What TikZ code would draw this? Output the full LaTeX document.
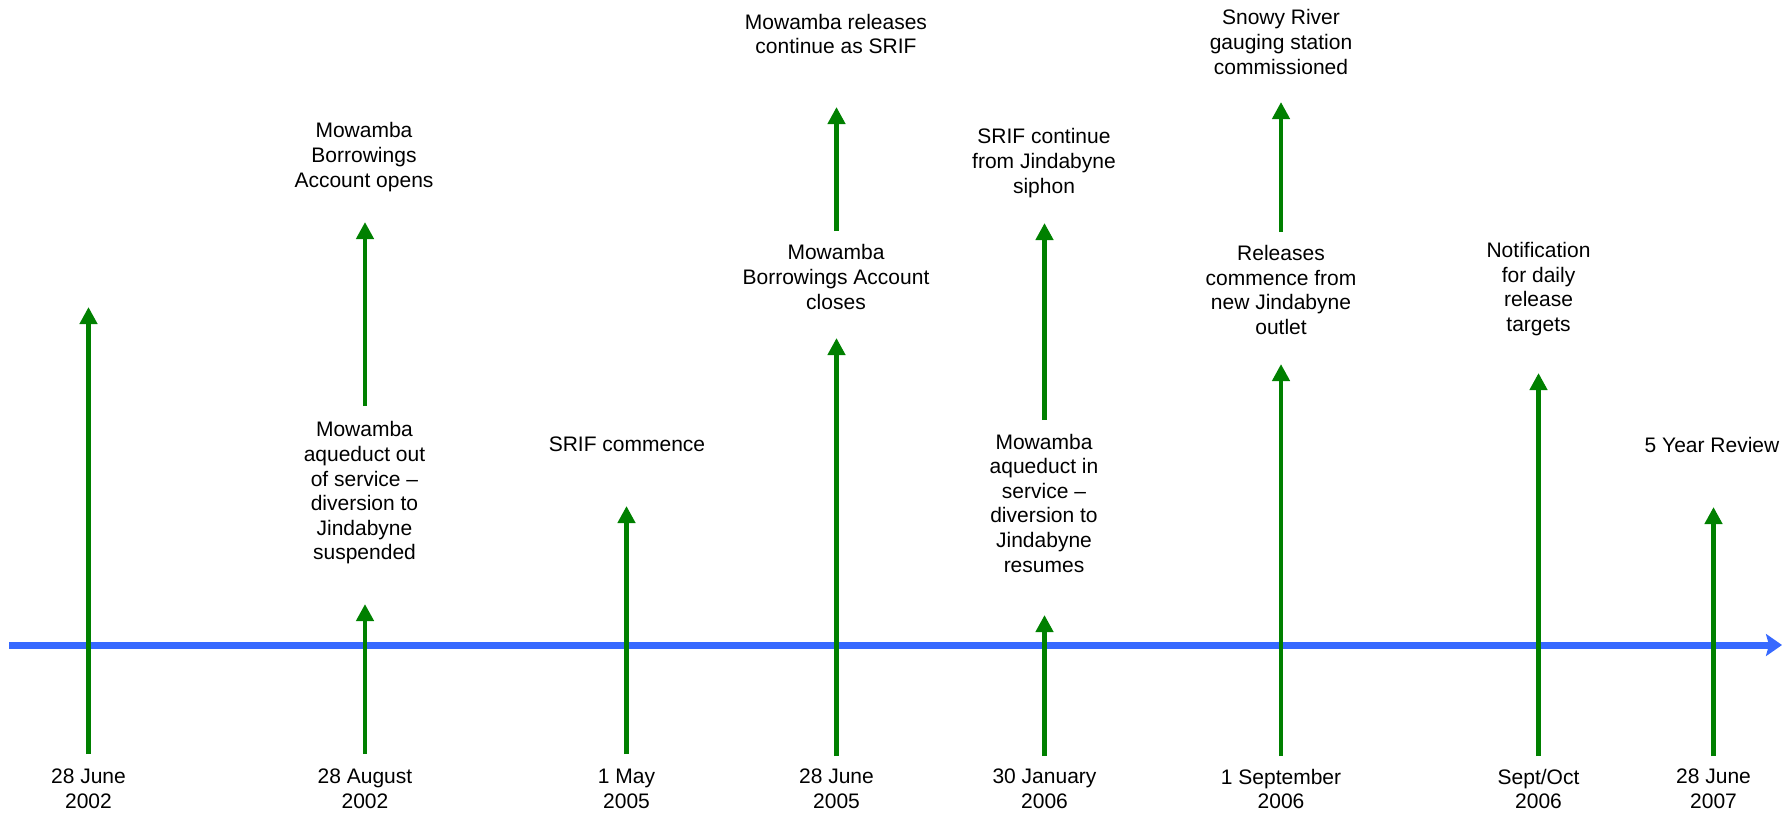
\documentclass[tikz,border=0pt]{standalone}
\usepackage{fontspec}
\setmainfont{Liberation Sans}
\usetikzlibrary{arrows.meta}
\definecolor{tlgreen}{RGB}{0,128,0}
\definecolor{tlblue}{RGB}{55,105,255}
\begin{document}
\begin{tikzpicture}[x=1pt,y=-1pt,
  evt/.style={align=center, inner sep=0pt, font=\fontsize{21}{24.6}\selectfont},
  datelbl/.style={evt},
  garrow/.style={draw=tlgreen, line width=4.5pt, -{Triangle[length=17pt,width=17pt]}},
  baxis/.style={draw=tlblue, line width=7pt, -{Stealth[length=16pt,width=22pt,inset=3pt]}}]
\useasboundingbox (0,0) rectangle (1782,812);

% axis
\coordinate (axL) at (9,645);
\coordinate (axR) at (1782,645);
\draw[baxis] (axL) -- (axR);

% dates
\node[datelbl] (d1) at (88.5,789) {28 June\\2002};
\node[datelbl] (d2) at (365,789) {28 August\\2002};
\node[datelbl] (d3) at (626.5,789) {1 May\\2005};
\node[datelbl] (d4) at (836.5,789) {28 June\\2005};
\node[datelbl] (d5) at (1044.5,789) {30 January\\2006};
\node[datelbl] (d6) at (1281,789) {1 September\\2006};
\node[datelbl] (d7) at (1538.5,789) {Sept/Oct\\2006};
\node[datelbl] (d8) at (1713.5,789) {28 June\\2007};

% events
\node[evt] (e2t) at (364,157) {Mowamba\\Borrowings\\Account opens};
\node[evt] (e2b) at (364.5,493) {Mowamba\\aqueduct out\\of service –\\diversion to\\Jindabyne\\suspended};
\node[evt, anchor=base] (e3) at (627,451) {SRIF commence};
\node[evt] (e4t) at (836,34) {Mowamba releases\\continue as SRIF};
\node[evt] (e4b) at (836,277) {Mowamba\\Borrowings Account\\closes};
\node[evt] (e5t) at (1044,163) {SRIF continue\\from Jindabyne\\siphon};
\node[evt] (e5b) at (1044,503) {Mowamba\\aqueduct in\\service –\\diversion to\\Jindabyne\\resumes};
\node[evt] (e6t) at (1281,42) {Snowy River\\gauging station\\commissioned};
\node[evt] (e6b) at (1281,290) {Releases\\commence from\\new Jindabyne\\outlet};
\node[evt] (e7) at (1538.5,289) {Notification\\for daily\\release\\targets};
\node[evt, anchor=base] (e8) at (1712,452) {5 Year Review};

% arrow end points
\coordinate (b1) at (88.5,754);   \coordinate (t1) at (88.5,307);
\coordinate (b2) at (365,754);    \coordinate (t2) at (365,604);
\coordinate (u2) at (365,406);    \coordinate (v2) at (365,222);
\coordinate (b3) at (626.5,754);  \coordinate (t3) at (626.5,506);
\coordinate (b4) at (836.5,756);  \coordinate (t4) at (836.5,338);
\coordinate (u4) at (836.5,231);  \coordinate (v4) at (836.5,107);
\coordinate (b5) at (1044.5,756); \coordinate (t5) at (1044.5,615);
\coordinate (u5) at (1044.5,420); \coordinate (v5) at (1044.5,223);
\coordinate (b6) at (1281,756);   \coordinate (t6) at (1281,364);
\coordinate (u6) at (1281,232);   \coordinate (v6) at (1281,102);
\coordinate (b7) at (1538.5,756); \coordinate (t7) at (1538.5,373);
\coordinate (b8) at (1713.5,756); \coordinate (t8) at (1713.5,507);

\draw[garrow] (b1) -- (t1);
\draw[garrow] (b2) -- (t2);
\draw[garrow] (u2) -- (v2);
\draw[garrow] (b3) -- (t3);
\draw[garrow] (b4) -- (t4);
\draw[garrow] (u4) -- (v4);
\draw[garrow] (b5) -- (t5);
\draw[garrow] (u5) -- (v5);
\draw[garrow] (b6) -- (t6);
\draw[garrow] (u6) -- (v6);
\draw[garrow] (b7) -- (t7);
\draw[garrow] (b8) -- (t8);
\end{tikzpicture}
\end{document}
